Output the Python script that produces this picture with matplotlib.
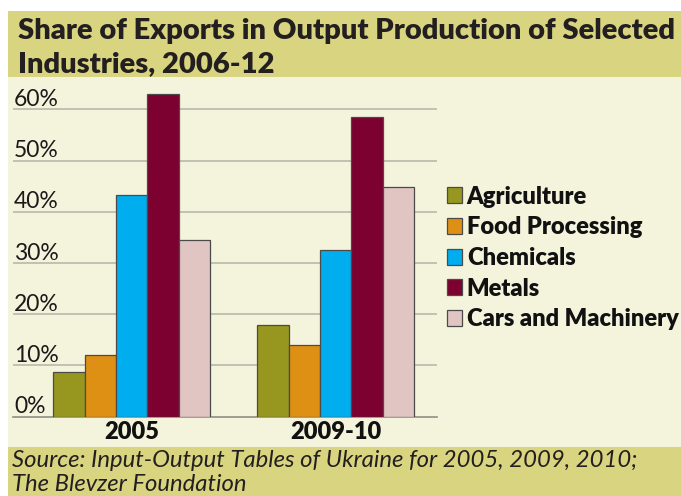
import matplotlib
matplotlib.use('Agg')
import matplotlib.pyplot as plt
from matplotlib.patches import Rectangle
import matplotlib.transforms as mtransforms
import numpy as np

# ---------------- data ----------------
groups = ['2005', '2009-10']
series = ['Agriculture', 'Food Processing', 'Chemicals', 'Metals', 'Cars and Machinery']
agriculture = [8.7, 17.9]
food_processing = [12.1, 13.9]
chemicals = [43.2, 32.6]
metals = [63.0, 58.5]
cars_machinery = [34.5, 44.9]
yticks = [0, 10, 20, 30, 40, 50, 60]
ytick_labels = ['0%', '10%', '20%', '30%', '40%', '50%', '60%']
title_lines = ['Share of Exports in Output Production of Selected', 'Industries, 2006-12']
source_lines = ['Source: Input-Output Tables of Ukraine for 2005, 2009, 2010;', 'The Blevzer Foundation']

colors = ['#979720', '#de9015', '#00adee', '#7c0030', '#e1c5c3']
values = [agriculture, food_processing, chemicals, metals, cars_machinery]

# ---------------- figure ----------------
W, H, DPI = 681, 496, 100
fig = plt.figure(figsize=(W / DPI, H / DPI), dpi=DPI, facecolor='white')
FONT = ['Lato', 'DejaVu Sans']

def fx(px):
    return px / W

def fy(py):  # py measured from top
    return 1 - py / H

def band(x0, y0, x1, y1, color):
    fig.patches.append(Rectangle((fx(x0), fy(y1)), fx(x1 - x0), (y1 - y0) / H,
                                 transform=fig.transFigure, facecolor=color,
                                 edgecolor='none', zorder=-5))

band(8, 11, W, 77, '#d9d47f')
band(8, 77, W, 447, '#f4f3dc')
band(8, 447, W, H, '#d9d47f')

# axes placement
ax_left, ax_right = 13, 437
ax_bottom, ax_top = 416.7, 80
ax = fig.add_axes([fx(ax_left), fy(ax_bottom), fx(ax_right - ax_left), (ax_bottom - ax_top) / H])
ax.set_facecolor('none')
ax.set_zorder(2)

px_per_unit = 51.23
ax.set_ylim(0, (ax_bottom - ax_top) / px_per_unit * 10)
grp_px = 204.0
c0 = 131.7
ax.set_xlim((ax_left - c0) / grp_px, (ax_right - c0) / grp_px)

bw = 31.3 / grp_px
x = np.arange(len(groups))
handles = []
for i, (name, vals, col) in enumerate(zip(series, values, colors)):
    h = ax.bar(x + (i - 2) * bw, vals, width=bw, color=col, edgecolor='#4a4a4a',
               linewidth=0.9, zorder=3, label=name)
    handles.append(h)

for t in yticks[1:]:
    ax.axhline(t, color='#b9b9ab', linewidth=1.2, zorder=1)

for s in ['top', 'right', 'left']:
    ax.spines[s].set_visible(False)
ax.spines['bottom'].set_color('#8f8f85')
ax.spines['bottom'].set_linewidth(1.2)

ax.set_yticks(yticks)
ax.set_yticklabels([])
ax.tick_params(axis='y', length=0)
off = mtransforms.offset_copy(ax.get_yaxis_transform(), fig=fig, x=1, y=3.5, units='dots')
for t, lab in zip(yticks, ytick_labels):
    ax.text(0, t, lab, transform=off, ha='left', va='baseline', fontsize=16.5,
            color='#1a1a1a', zorder=4, family=FONT)

ax.set_xticks(x)
ax.set_xticklabels(groups, fontsize=17, fontweight='heavy', color='#111111', family=FONT)
ax.tick_params(axis='x', length=0, pad=3)

# legend
leg = fig.legend(handles=handles, labels=series, loc='upper left',
                 bbox_to_anchor=(fx(446.5), fy(185.5)), frameon=False,
                 prop={'size': 17, 'weight': 'heavy', 'family': FONT},
                 handlelength=0.66, handleheight=0.66, handletextpad=0.2,
                 labelspacing=0.37, borderpad=0, borderaxespad=0)
for tx in leg.get_texts():
    tx.set_color('#111111')

# titles
t1 = fig.text(fx(18), fy(39), title_lines[0], ha='left', va='baseline', fontsize=20,
              fontweight='heavy', family=FONT, color='#231f20')
t2 = fig.text(fx(18), fy(72), title_lines[1], ha='left', va='baseline', fontsize=20,
              fontweight='heavy', family=FONT, color='#231f20')
s1 = fig.text(fx(12), fy(467), source_lines[0], ha='left', va='baseline', fontsize=14,
              style='italic', family=FONT, color='#231f20')
s2 = fig.text(fx(12), fy(491), source_lines[1], ha='left', va='baseline', fontsize=14,
              style='italic', family=FONT, color='#231f20')

renderer = fig.canvas.get_renderer()
def fit(tobj, target):
    bb = tobj.get_window_extent(renderer)
    tobj.set_fontsize(tobj.get_fontsize() * target / bb.width)

fit(t1, 660)
t2.set_fontsize(t1.get_fontsize())
fit(s1, 628)
s2.set_fontsize(s1.get_fontsize())

fig.savefig('out.png', dpi=DPI, facecolor='white')
